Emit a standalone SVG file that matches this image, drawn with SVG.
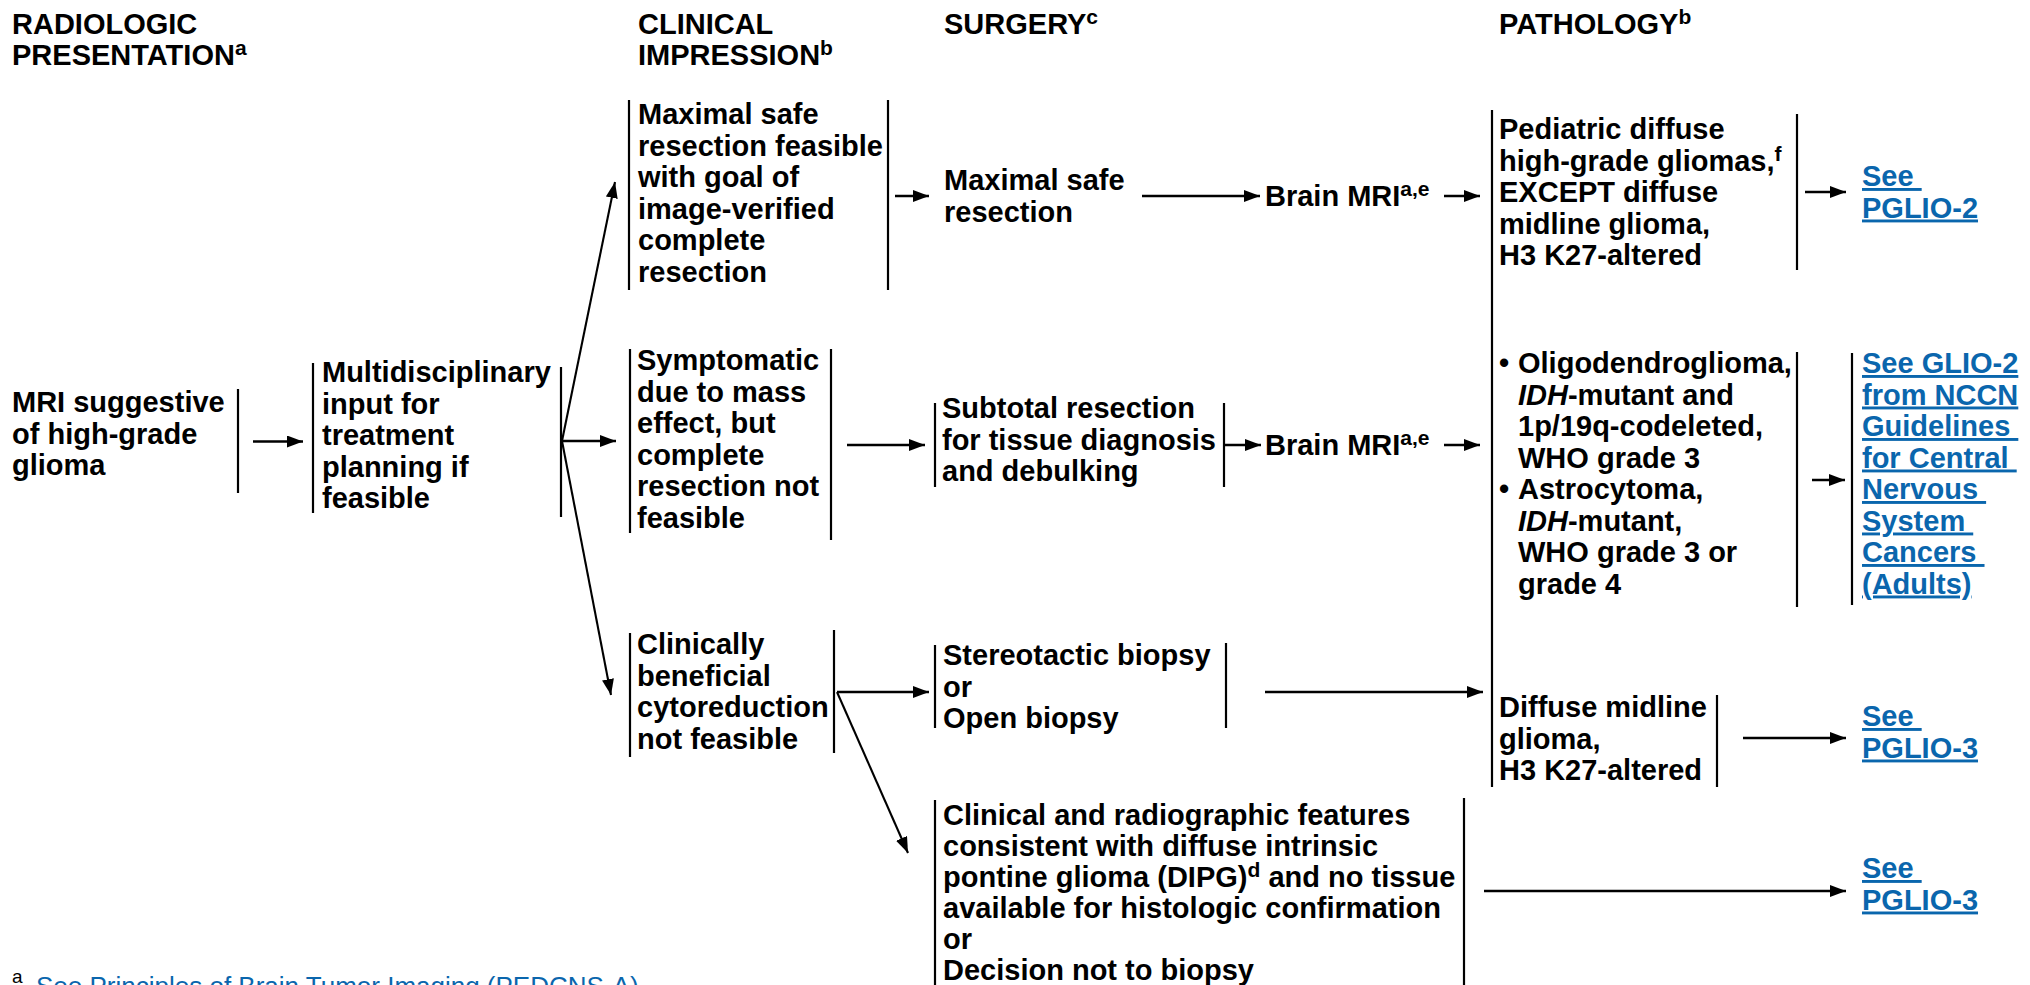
<svg xmlns="http://www.w3.org/2000/svg" width="2030" height="985" viewBox="0 0 2030 985">
<defs>
<style>
text{font-family:"Liberation Sans",Arial,sans-serif;font-weight:bold;font-size:29px;fill:#000}
.sup{font-size:21px}
.it{font-style:italic}
.lnk{fill:#0a66ad;text-decoration:underline}
.bar{stroke:#000;stroke-width:2.2;fill:none}
.arr{stroke:#000;stroke-width:2.6;fill:none;marker-end:url(#ah)}
.diag{stroke:#000;stroke-width:2.1;fill:none;marker-end:url(#ah)}
.fn{font-weight:normal;font-size:26px}
</style>
<marker id="ah" markerUnits="userSpaceOnUse" markerWidth="16" markerHeight="12" refX="16" refY="6" orient="auto">
<path d="M0,0 L16,6 L0,12 z" fill="#000"/>
</marker>
</defs>
<rect width="2030" height="985" fill="#fff"/>

<g id="headers">
<text x="12" y="34">RADIOLOGIC</text>
<text x="12" y="65">PRESENTATION<tspan class="sup" dy="-10">a</tspan></text>
<text x="638" y="34">CLINICAL</text>
<text x="638" y="65">IMPRESSION<tspan class="sup" dy="-10">b</tspan></text>
<text x="944" y="34">SURGERY<tspan class="sup" dy="-10">c</tspan></text>
<text x="1499" y="34">PATHOLOGY<tspan class="sup" dy="-10">b</tspan></text>
</g>

<g id="node-mri">
<text x="12" y="412">MRI suggestive</text>
<text x="12" y="443.5">of high-grade</text>
<text x="12" y="475">glioma</text>
<line class="bar" x1="238" y1="389" x2="238" y2="493"/>
</g>

<g id="node-multidisciplinary">
<line class="bar" x1="313" y1="363" x2="313" y2="513"/>
<text x="322" y="382">Multidisciplinary</text>
<text x="322" y="413.5">input for</text>
<text x="322" y="445">treatment</text>
<text x="322" y="476.5">planning if</text>
<text x="322" y="508">feasible</text>
<line class="bar" x1="561" y1="367" x2="561" y2="517"/>
</g>

<g id="node-maximal-feasible">
<line class="bar" x1="629" y1="100" x2="629" y2="290"/>
<text x="638" y="124">Maximal safe</text>
<text x="638" y="155.5">resection feasible</text>
<text x="638" y="187">with goal of</text>
<text x="638" y="218.5">image-verified</text>
<text x="638" y="250">complete</text>
<text x="638" y="281.5">resection</text>
<line class="bar" x1="888" y1="100" x2="888" y2="290"/>
</g>

<g id="node-symptomatic">
<line class="bar" x1="630" y1="349" x2="630" y2="533"/>
<text x="637" y="370">Symptomatic</text>
<text x="637" y="401.5">due to mass</text>
<text x="637" y="433">effect, but</text>
<text x="637" y="464.5">complete</text>
<text x="637" y="496">resection not</text>
<text x="637" y="527.5">feasible</text>
<line class="bar" x1="831" y1="349" x2="831" y2="540"/>
</g>

<g id="node-clinically">
<line class="bar" x1="630" y1="633" x2="630" y2="757"/>
<text x="637" y="654">Clinically</text>
<text x="637" y="685.5">beneficial</text>
<text x="637" y="717">cytoreduction</text>
<text x="637" y="748.5">not feasible</text>
<line class="bar" x1="834" y1="630" x2="834" y2="753"/>
</g>

<g id="node-maximal-resection">
<text x="944" y="190">Maximal safe</text>
<text x="944" y="221.5">resection</text>
</g>

<g id="node-subtotal">
<line class="bar" x1="935" y1="403" x2="935" y2="487"/>
<text x="942" y="418">Subtotal resection</text>
<text x="942" y="449.5">for tissue diagnosis</text>
<text x="942" y="481">and debulking</text>
<line class="bar" x1="1224" y1="403" x2="1224" y2="487"/>
</g>

<g id="node-biopsy">
<line class="bar" x1="935" y1="645" x2="935" y2="728"/>
<text x="943" y="665">Stereotactic biopsy</text>
<text x="943" y="696.5">or</text>
<text x="943" y="728">Open biopsy</text>
<line class="bar" x1="1226" y1="643" x2="1226" y2="728"/>
</g>

<g id="node-dipg">
<line class="bar" x1="935" y1="800" x2="935" y2="985"/>
<text x="943" y="825">Clinical and radiographic features</text>
<text x="943" y="856">consistent with diffuse intrinsic</text>
<text x="943" y="887">pontine glioma (DIPG)<tspan class="sup" dy="-10">d</tspan><tspan dy="10"> and no tissue</tspan></text>
<text x="943" y="918">available for histologic confirmation</text>
<text x="943" y="949">or</text>
<text x="943" y="980">Decision not to biopsy</text>
<line class="bar" x1="1464" y1="798" x2="1464" y2="985"/>
</g>

<g id="node-brainmri-1">
<text x="1265" y="206">Brain MRI<tspan class="sup" dy="-10">a,e</tspan></text>
</g>

<g id="node-brainmri-2">
<text x="1265" y="455">Brain MRI<tspan class="sup" dy="-10">a,e</tspan></text>
</g>

<g id="pathology-bracket">
<line class="bar" x1="1492" y1="110" x2="1492" y2="787"/>
</g>

<g id="node-pediatric">
<text x="1499" y="139">Pediatric diffuse</text>
<text x="1499" y="170.5">high-grade gliomas,<tspan class="sup" dy="-10">f</tspan></text>
<text x="1499" y="202">EXCEPT diffuse</text>
<text x="1499" y="233.5">midline glioma,</text>
<text x="1499" y="265">H3 K27-altered</text>
<line class="bar" x1="1797" y1="114" x2="1797" y2="270"/>
</g>

<g id="node-oligo-astro">
<text x="1499" y="373">•</text>
<text x="1518" y="373">Oligodendroglioma,</text>
<text x="1518" y="404.5"><tspan class="it">IDH</tspan>-mutant and</text>
<text x="1518" y="436">1p/19q-codeleted,</text>
<text x="1518" y="467.5">WHO grade 3</text>
<text x="1499" y="499">•</text>
<text x="1518" y="499">Astrocytoma,</text>
<text x="1518" y="530.5"><tspan class="it">IDH</tspan>-mutant,</text>
<text x="1518" y="562">WHO grade 3 or</text>
<text x="1518" y="593.5">grade 4</text>
<line class="bar" x1="1797" y1="352" x2="1797" y2="607"/>
</g>

<g id="node-diffuse-midline">
<text x="1499" y="717">Diffuse midline</text>
<text x="1499" y="748.5">glioma,</text>
<text x="1499" y="780">H3 K27-altered</text>
<line class="bar" x1="1717" y1="695" x2="1717" y2="787"/>
</g>

<g id="link-pglio2">
<text class="lnk" x="1862" y="186" xml:space="preserve">See </text>
<text class="lnk" x="1862" y="217.5">PGLIO-2</text>
</g>

<g id="link-glio2">
<line class="bar" x1="1852" y1="353" x2="1852" y2="605"/>
<text class="lnk" x="1862" y="373">See GLIO-2</text>
<text class="lnk" x="1862" y="404.5">from NCCN</text>
<text class="lnk" x="1862" y="436" xml:space="preserve">Guidelines </text>
<text class="lnk" x="1862" y="467.5" xml:space="preserve">for Central </text>
<text class="lnk" x="1862" y="499" xml:space="preserve">Nervous </text>
<text class="lnk" x="1862" y="530.5" xml:space="preserve">System </text>
<text class="lnk" x="1862" y="562" xml:space="preserve">Cancers </text>
<text class="lnk" x="1862" y="593.5">(Adults)</text>
</g>

<g id="link-pglio3-a">
<text class="lnk" x="1862" y="726" xml:space="preserve">See </text>
<text class="lnk" x="1862" y="757.5">PGLIO-3</text>
</g>

<g id="link-pglio3-b">
<text class="lnk" x="1862" y="878" xml:space="preserve">See </text>
<text class="lnk" x="1862" y="909.5">PGLIO-3</text>
</g>

<g id="connectors">
<line class="arr" x1="253" y1="441.5" x2="303" y2="441.5"/>
<line class="diag" x1="562" y1="441" x2="615" y2="182"/>
<line class="arr" x1="562" y1="441" x2="616" y2="441"/>
<line class="diag" x1="562" y1="441" x2="611" y2="695"/>
<line class="arr" x1="895" y1="196" x2="929" y2="196"/>
<line class="arr" x1="1142" y1="196" x2="1260" y2="196"/>
<line class="arr" x1="1444" y1="196" x2="1480" y2="196"/>
<line class="arr" x1="1805" y1="192" x2="1846" y2="192"/>
<line class="arr" x1="847" y1="445" x2="925" y2="445"/>
<line class="arr" x1="1224" y1="445" x2="1261" y2="445"/>
<line class="arr" x1="1444" y1="445" x2="1480" y2="445"/>
<line class="arr" x1="1812" y1="480" x2="1845" y2="480"/>
<line class="arr" x1="837" y1="692" x2="929" y2="692"/>
<line class="diag" x1="837" y1="692" x2="908" y2="853"/>
<line class="arr" x1="1265" y1="692" x2="1483" y2="692"/>
<line class="arr" x1="1743" y1="738" x2="1846" y2="738"/>
<line class="arr" x1="1484" y1="891" x2="1846" y2="891"/>
</g>

<g id="footnote">
<text class="fn" x="12" y="983" style="font-size:19px">a</text>
<text class="fn lnk" x="36" y="995" style="text-decoration:none">See Principles of Brain Tumor Imaging (PEDCNS-A)</text>
</g>
</svg>
